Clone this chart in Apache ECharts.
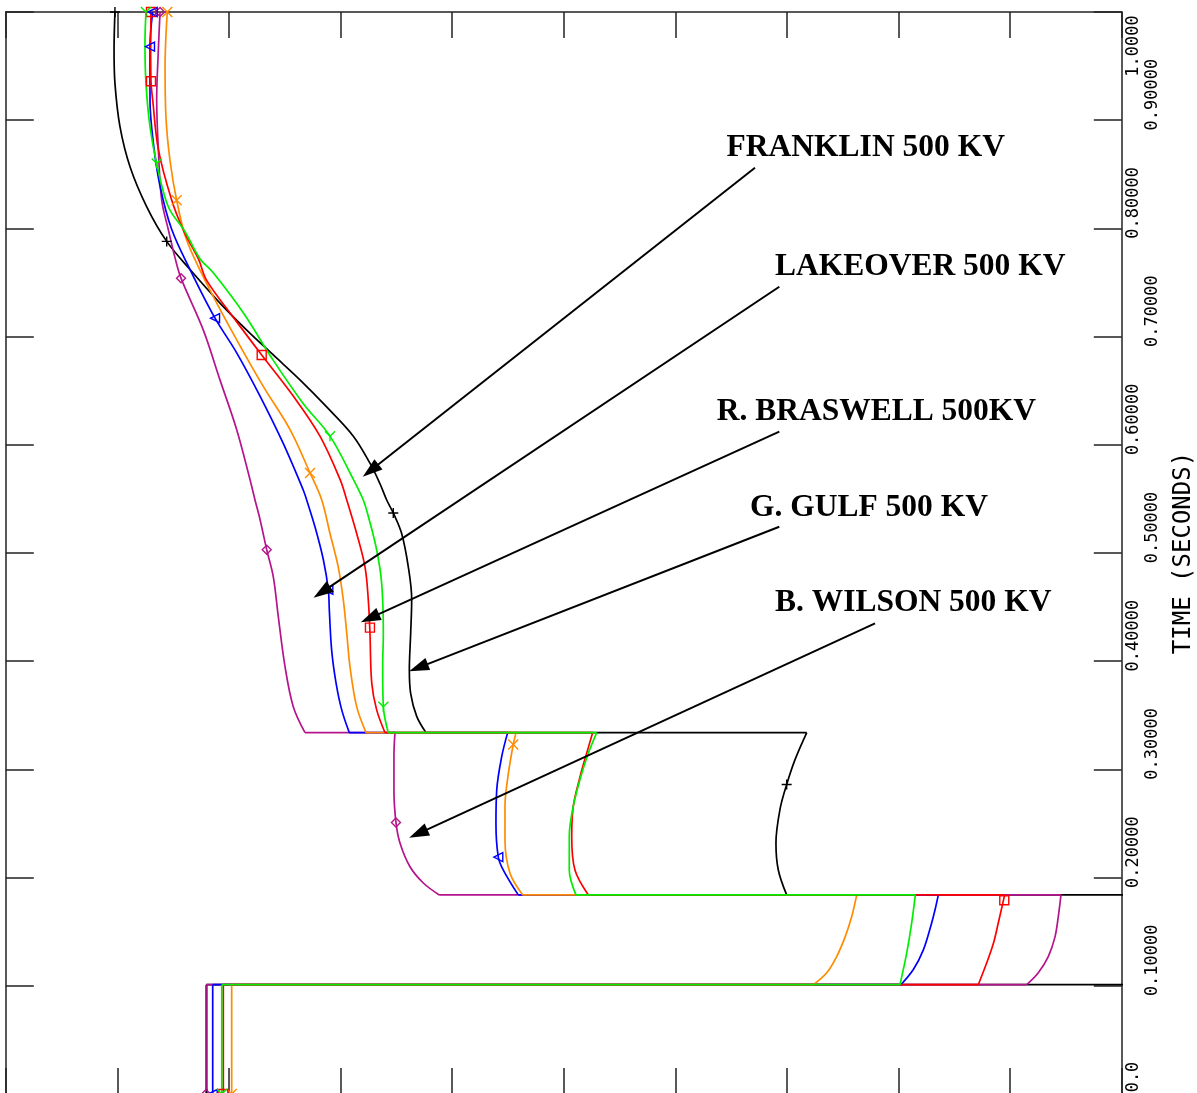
<!DOCTYPE html>
<html><head><meta charset="utf-8">
<script src="https://cdn.jsdelivr.net/npm/echarts@6/dist/echarts.min.js"></script>
<style>html,body{margin:0;padding:0;background:#fff}#c{width:1197px;height:1093px}</style>
</head><body><div id="c"></div>
<script>
// ---- tick labels (time axis, seconds) ----
const tickLabels = ['0.0','0.10000','0.20000','0.30000','0.40000','0.50000','0.60000','0.70000','0.80000','0.90000','1.0000'];

// ---- curves: [x (chart units), time (s)] ----
const blackCurve = [
[1.800,0],[1.800,0.101],[10.7,0.101],[10.9,0.14],[10.8,0.184],[6.997,0.184],
[6.922,0.207],[6.901,0.232],[6.937,0.263],[6.997,0.286],[7.072,0.309],[7.177,0.334],
[3.765,0.334],[3.682,0.349],[3.628,0.370],[3.616,0.392],[3.628,0.426],[3.637,0.457],[3.607,0.487],[3.547,0.518],[3.472,0.537],[3.413,0.549],[3.353,0.564],[3.263,0.583],[3.114,0.608],[2.875,0.635],[2.636,0.660],[2.397,0.683],[2.159,0.706],[1.919,0.731],[1.651,0.762],[1.442,0.788],[1.263,0.820],[1.113,0.857],[1.023,0.894],[0.978,0.934],[0.970,0.965],[0.978,1.0]
];
const magentaCurve = [
[1.794,0],[1.794,0.101],[9.148,0.101],[9.252,0.112],[9.341,0.127],[9.401,0.145],[9.431,0.164],[9.455,0.184],
[3.884,0.184],[3.741,0.195],[3.622,0.210],[3.532,0.232],[3.496,0.251],[3.478,0.281],[3.478,0.312],[3.487,0.334],
[2.681,0.334],[2.576,0.358],[2.502,0.395],[2.442,0.441],[2.397,0.478],[2.338,0.503],[2.278,0.531],[2.233,0.549],[2.188,0.568],[2.069,0.614],[1.919,0.660],[1.770,0.706],[1.570,0.754],[1.516,0.773],[1.456,0.799],[1.397,0.826],[1.367,0.873],[1.352,0.919],[1.367,0.965],[1.382,1.0]
];
const blueCurve = [
[1.854,0],[1.854,0.101],[8.021,0.101],[8.132,0.115],[8.221,0.133],[8.288,0.155],[8.326,0.170],[8.356,0.184],
[4.592,0.184],[4.458,0.207],[4.413,0.219],[4.392,0.250],[4.399,0.281],[4.444,0.312],[4.497,0.334],
[3.078,0.334],[3.010,0.355],[2.959,0.380],[2.920,0.410],[2.899,0.447],[2.890,0.466],[2.845,0.494],[2.771,0.524],[2.696,0.549],[2.666,0.558],[2.487,0.601],[2.278,0.645],[2.069,0.685],[1.875,0.717],[1.651,0.762],[1.487,0.799],[1.382,0.839],[1.322,0.879],[1.292,0.919],[1.292,0.968],[1.316,1.0]
];
const orangeCurve = [
[2.024,0],[2.024,0.101],[7.236,0.101],[7.356,0.112],[7.445,0.127],[7.520,0.145],[7.580,0.164],[7.625,0.184],
[4.632,0.184],[4.518,0.204],[4.473,0.235],[4.473,0.266],[4.503,0.296],[4.547,0.323],[4.572,0.334],
[3.228,0.334],[3.144,0.358],[3.084,0.395],[3.055,0.426],[3.024,0.457],[2.979,0.487],[2.905,0.518],[2.831,0.549],[2.726,0.574],[2.547,0.614],[2.307,0.654],[2.069,0.697],[1.830,0.743],[1.621,0.789],[1.531,0.826],[1.471,0.863],[1.435,0.903],[1.427,0.949],[1.447,1.0]
];
const redCurve = [
[1.949,0],[1.949,0.101],[8.714,0.101],[8.789,0.121],[8.849,0.139],[8.893,0.158],[8.933,0.176],[8.950,0.184],
[5.220,0.184],[5.100,0.207],[5.071,0.238],[5.085,0.266],[5.145,0.293],[5.205,0.315],[5.259,0.334],
[3.398,0.334],[3.323,0.355],[3.279,0.380],[3.263,0.426],[3.248,0.457],[3.219,0.487],[3.144,0.518],[3.055,0.549],[2.995,0.568],[2.815,0.608],[2.576,0.645],[2.293,0.683],[2.038,0.718],[1.800,0.752],[1.725,0.772],[1.597,0.797],[1.487,0.826],[1.367,0.873],[1.316,0.919],[1.301,0.936],[1.298,0.965],[1.301,1.0]
];
const greenCurve = [
[1.935,0],[1.935,0.101],[8.012,0.101],[8.072,0.130],[8.117,0.158],[8.150,0.184],
[5.109,0.184],[5.049,0.207],[5.049,0.238],[5.085,0.266],[5.160,0.296],[5.220,0.315],[5.295,0.334],
[3.427,0.334],[3.383,0.358],[3.377,0.395],[3.383,0.426],[3.368,0.472],[3.323,0.503],[3.248,0.534],[3.203,0.549],[3.114,0.568],[2.905,0.608],[2.666,0.638],[2.397,0.678],[2.128,0.722],[1.859,0.759],[1.740,0.772],[1.606,0.797],[1.456,0.820],[1.352,0.860],[1.292,0.894],[1.256,0.934],[1.247,0.971],[1.256,1.0]
];

// ---- plotted marker points ----
const blackMarks   = [[1.800,0],[6.997,0.286],[3.472,0.537],[1.442,0.788],[0.978,1.0]];
const magentaMarks = [[1.794,0],[3.496,0.251],[2.338,0.503],[1.570,0.754],[1.382,1.0]];
const blueMarks    = [[1.854,0],[4.413,0.219],[2.890,0.466],[1.875,0.717],[1.292,0.968],[1.316,1.0]];
const orangeMarks  = [[2.024,0],[4.547,0.323],[2.726,0.574],[1.531,0.826],[1.447,1.0]];
const redMarks     = [[1.949,0],[8.947,0.179],[3.263,0.431],[2.293,0.683],[1.301,0.936],[1.301,1.0]];
const greenMarks   = [[1.935,0],[3.383,0.358],[2.905,0.608],[1.352,0.860],[1.256,1.0]];

// ---- annotations ----
const labelNames = ['FRANKLIN 500 KV','LAKEOVER 500 KV','R. BRASWELL 500KV','G. GULF 500 KV','B. WILSON 500 KV'];
const labelPos   = [[6.459,0.874],[6.892,0.7646],[6.370,0.6303],[6.668,0.5413],[6.892,0.4535]];
const arrowFrom  = [[6.713,0.8561],[6.931,0.7461],[6.931,0.6121],[6.931,0.5243],[7.789,0.435]];
const arrowTo    = [[3.269,0.5762],[2.832,0.4638],[3.263,0.4398],[3.698,0.394],[3.696,0.2406]];

const chart = echarts.init(document.getElementById('c'), null, {renderer:'canvas'});
const frame = {color:'#222', width:1.5};
const monoFont = 'DejaVu Sans Mono';
const GAP = ['-','-'];

// split each curve at its instantaneous (constant-time) jumps so that the
// smooth interpolation only bends the continuous parts
function withBreaks(c){
  const out = [c[0]];
  for (let i = 1; i < c.length; i++){
    if (c[i][1] === c[i-1][1]) out.push(GAP, c[i-1], c[i], GAP, c[i]);
    else out.push(c[i]);
  }
  return out;
}
function lineSeries(data, color){
  return {type:'line', data:withBreaks(data), symbol:'none', showSymbol:false, clip:true,
    smooth:0.35, connectNulls:false,
    lineStyle:{color:color, width:1.7}, itemStyle:{color:color}, z:2, silent:true};
}
function markSeries(data, color, symbol, size){
  return {type:'scatter', data:data, symbol:symbol, symbolSize:size, clip:false,
    itemStyle:{color:'none', borderColor:color, borderWidth:1.4, opacity:1}, z:3, silent:true};
}
const P_PLUS = 'path://M0,5L10,5M5,0L5,10';
const P_X = 'path://M0,0L10,10M10,0L0,10';
const P_TRI = 'path://M0,5L10,0L10,10Z';
const P_SQ = 'path://M0,0L10,0L10,10L0,10Z';
const P_DIA = 'path://M5,0L10,5L5,10L0,5Z';
const P_Y = 'path://M0,0L5,5L10,0M5,5L5,10';

const C = {black:'#000000', magenta:'#b4148c', blue:'#0000ff', orange:'#ff8c00', red:'#ff0000', green:'#00ee00'};

const labelStyle = {fontFamily:monoFont, fontSize:17, color:'#000'};

const option = {
  animation:false,
  backgroundColor:'#fff',
  grid:{left:5.8, top:12, width:1116, height:1082, containLabel:false, outerBoundsMode:'none'},
  xAxis:[
    {type:'value', position:'bottom', min:0, max:10, interval:1,
     axisLine:{show:true, onZero:false, lineStyle:frame},
     axisTick:{show:true, inside:true, length:26, lineStyle:frame},
     axisLabel:{show:false}, splitLine:{show:false}},
    {type:'value', position:'top', min:0, max:10, interval:1,
     axisLine:{show:true, onZero:false, lineStyle:frame},
     axisTick:{show:true, inside:true, length:26, lineStyle:frame},
     axisLabel:{show:false}, splitLine:{show:false}}
  ],
  yAxis:[
    {type:'value', position:'right', min:0, max:1, interval:0.1,
     axisLine:{show:true, onZero:false, lineStyle:frame},
     axisTick:{show:true, inside:true, length:28, lineStyle:frame},
     splitLine:{show:false},
     name:'TIME (SECONDS)', nameLocation:'middle', nameRotate:90, nameGap:50,
     nameTextStyle:{fontFamily:monoFont, fontSize:24, color:'#000'},
     axisLabel:{show:true, rotate:90, margin:3, showMinLabel:true, showMaxLabel:true,
       fontFamily:monoFont, fontSize:17, color:'#000',
       formatter:function(v){
         const i = Math.round(v*10);
         const s = tickLabels[i];
         if (i === 10) return '{t|' + s + '}';
         if (i === 0) return '{z|' + s + '}';
         return (i % 2 === 0 ? '{a|' : '{b|') + s + '}';
       },
       rich:{
         a:Object.assign({padding:[0,0,0,51]}, labelStyle),
         b:Object.assign({padding:[19,0,0,51]}, labelStyle),
         z:Object.assign({padding:[0,0,0,34]}, labelStyle),
         t:Object.assign({padding:[0,68,0,0]}, labelStyle)
       }}},
    {type:'value', position:'left', min:0, max:1, interval:0.1,
     axisLine:{show:true, onZero:false, lineStyle:frame},
     axisTick:{show:true, inside:true, length:28, lineStyle:frame},
     axisLabel:{show:false}, splitLine:{show:false}}
  ],
  series:[
    lineSeries(blackCurve, C.black),
    lineSeries(magentaCurve, C.magenta),
    lineSeries(blueCurve, C.blue),
    lineSeries(orangeCurve, C.orange),
    lineSeries(redCurve, C.red),
    lineSeries(greenCurve, C.green),
    markSeries(blackMarks, C.black, P_PLUS, 10),
    markSeries(magentaMarks, C.magenta, P_DIA, 9),
    markSeries(blueMarks, C.blue, P_TRI, 9),
    markSeries(orangeMarks, C.orange, P_X, 10),
    markSeries(redMarks, C.red, P_SQ, 9),
    markSeries(greenMarks, C.green, P_Y, 10),
    {type:'scatter', data:labelNames.map(function(n,i){return {name:n, value:labelPos[i]};}),
     symbolSize:0, silent:true, z:6, clip:false, itemStyle:{opacity:1},
     label:{show:true, position:'right', distance:0, formatter:'{b}', opacity:1,
       fontFamily:'Liberation Serif', fontWeight:'bold', fontSize:31.5, color:'#000'},
     markLine:{silent:true, animation:false, symbol:['none','triangle'], symbolSize:[0,20],
       lineStyle:{color:'#000', width:2, type:'solid', opacity:1}, itemStyle:{opacity:1}, label:{show:false},
       emphasis:{disabled:true},
       data:arrowFrom.map(function(f,i){return [{coord:f, symbol:'none'}, {coord:arrowTo[i], symbol:'triangle', symbolSize:[13,20]}];})}}
  ]
};
chart.setOption(option);
</script></body></html>
